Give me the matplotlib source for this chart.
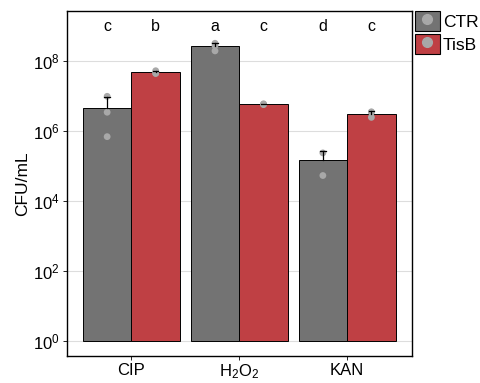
import numpy as np
import matplotlib
matplotlib.use('Agg')
import matplotlib.pyplot as plt
from matplotlib.patches import Patch
from matplotlib.lines import Line2D

plt.rcParams['font.family'] = ['Liberation Sans', 'DejaVu Sans']
plt.rcParams['mathtext.fontset'] = 'custom'
plt.rcParams['mathtext.rm'] = 'Liberation Sans'
plt.rcParams['mathtext.it'] = 'Liberation Sans'

# 数据：每组的重复测量值
treatments = ['CIP', 'H2O2', 'KAN']
tick_labels = ['CIP', r'H$_2$O$_2$', 'KAN']
ctr_reps = [[1.0e7, 3.5e6, 7.0e5],
            [3.3e8, 2.0e8, 2.8e8],
            [5.4e4, 2.4e5]]
tisb_reps = [[5.4e7, 4.5e7, 4.6e7],
             [6.1e6, 5.8e6, 5.9e6],
             [3.6e6, 3.5e6, 2.5e6]]
ctr_letters = ['c', 'a', 'd']
tisb_letters = ['b', 'c', 'c']

col_ctr = '#737373'
col_tisb = '#BF4044'
col_pt = '#A8A8A8'

fig = plt.figure(figsize=(4.8, 3.83), dpi=100)
ax = fig.add_axes([0.139, 0.071, 0.719, 0.900])

x = np.arange(1, len(treatments) + 1)
w = 0.45

for reps, offs, col, letters in [(ctr_reps, -w / 2, col_ctr, ctr_letters),
                                 (tisb_reps, w / 2, col_tisb, tisb_letters)]:
    for i in range(len(x)):
        r = np.array(reps[i])
        mean = r.mean()
        sd = r.std(ddof=1)
        xi = x[i] + offs
        ax.bar(xi, mean - 1, bottom=1, width=w, color=col,
               edgecolor='black', linewidth=0.7, zorder=2)
        ax.scatter([xi] * len(r), r, s=24, color=col_pt, edgecolor='none', zorder=3)
        ax.plot([xi, xi], [mean, mean + sd], color='black', lw=0.9, zorder=4)
        ax.plot([xi - 0.025, xi + 0.025], [mean + sd] * 2, color='black', lw=0.9, zorder=4)
        ax.text(xi, 1e9, letters[i], ha='center', va='center', fontsize=11.5)

ax.set_yscale('log')
ax.set_ylim(10 ** -0.43, 10 ** 9.44)
ax.set_xlim(0.4, 3.6)
ax.set_yticks([1e0, 1e2, 1e4, 1e6, 1e8])
ax.yaxis.set_minor_locator(matplotlib.ticker.NullLocator())
ax.set_xticks(x)
ax.set_xticklabels(tick_labels)
ax.grid(axis='y', color='#DDDDDD', lw=0.8, zorder=0)
ax.set_axisbelow(True)
ax.tick_params(axis='both', labelsize=12, length=3, width=0.6, colors='black', pad=2)
for s in ax.spines.values():
    s.set_linewidth(1.0)
ax.set_ylabel('CFU/mL', fontsize=12.5, labelpad=2)

handles = [(Patch(facecolor=col_ctr, edgecolor='black', lw=0.8),
            Line2D([], [], marker='o', ls='none', color=col_pt, markersize=7)),
           (Patch(facecolor=col_tisb, edgecolor='black', lw=0.8),
            Line2D([], [], marker='o', ls='none', color=col_pt, markersize=7))]
ax.legend(handles, ['CTR', 'TisB'], loc='upper left', bbox_to_anchor=(1.005, 1.005),
          frameon=False, fontsize=12.5, handlelength=1.4, handleheight=1.4,
          handletextpad=0.2, labelspacing=0.15, borderaxespad=0, borderpad=0.1)

fig.savefig('out.png', dpi=100)
